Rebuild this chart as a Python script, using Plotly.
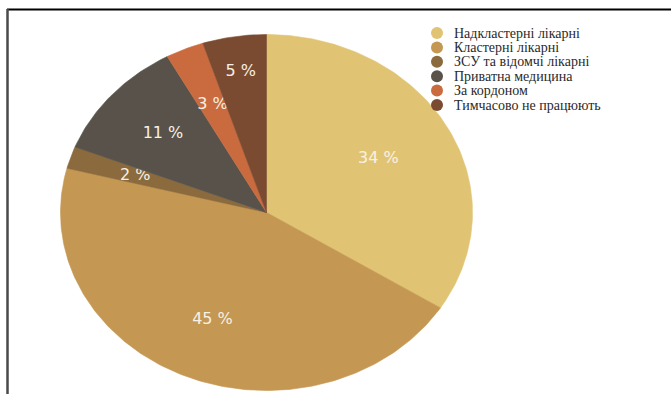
import math
import plotly.graph_objects as go

# Share of patients by type of care facility (%)
categories = [
    "Надкластерні лікарні",
    "Кластерні лікарні",
    "ЗСУ та відомчі лікарні",
    "Приватна медицина",
    "За кордоном",
    "Тимчасово не працюють",
]
shares = [34, 45, 2, 11, 3, 5]
colors = ["#e1c473", "#c49752", "#8b6a3d", "#58524a", "#c96b3f", "#7a4b30"]

# Geometry of the (slightly stretched) pie, in pixel units of the canvas
W, H = 671, 394
CX, CY = 266.5, 212.5
RX, RY = 206.0, 178.0
label_radius = [0.62, 0.66, 0.67, 0.67, 0.66, 0.80]

fig = go.Figure()

total = sum(shares)
start = 0.0
for name, val, col, lr in zip(categories, shares, colors, label_radius):
    a0 = start / total * 2 * math.pi
    a1 = (start + val) / total * 2 * math.pi
    n = max(8, int(val * 4))
    xs, ys = [CX], [CY]
    for k in range(n + 1):
        a = a0 + (a1 - a0) * k / n
        # clockwise from 12 o'clock, y axis points down
        xs.append(CX + RX * math.sin(a))
        ys.append(CY - RY * math.cos(a))
    xs.append(CX)
    ys.append(CY)
    fig.add_trace(go.Scatter(
        x=xs, y=ys, mode="lines", fill="toself", fillcolor=col,
        line=dict(color=col, width=0.6), hoverinfo="skip", showlegend=False,
    ))
    am = (a0 + a1) / 2
    fig.add_trace(go.Scatter(
        x=[CX + lr * RX * math.sin(am)], y=[CY - lr * RY * math.cos(am)],
        mode="text", text=[f"{val} %"],
        textfont=dict(family="DejaVu Sans", size=16, color="#f6f1e4"),
        hoverinfo="skip", showlegend=False,
    ))
    start += val

# Legend: round markers with serif labels
LX, LY0, LDY = 437, 33, 14.4
fig.add_trace(go.Scatter(
    x=[LX] * len(categories),
    y=[LY0 + i * LDY for i in range(len(categories))],
    mode="markers", marker=dict(size=12, color=colors),
    hoverinfo="skip", showlegend=False,
))
for i, name in enumerate(categories):
    fig.add_annotation(
        x=LX + 15, y=LY0 + i * LDY, xref="x", yref="y", text=name,
        showarrow=False, xanchor="left", yanchor="middle",
        font=dict(family="Liberation Serif", size=14, color="#2a2a2a"),
    )

# Frame lines along the top and left edges
fig.add_shape(type="line", xref="paper", yref="paper", x0=7 / W, x1=1, y0=1 - 9.5 / H, y1=1 - 9.5 / H,
              line=dict(color="#000000", width=2))
fig.add_shape(type="line", xref="paper", yref="paper", x0=7.5 / W, x1=7.5 / W, y0=0, y1=1 - 9 / H,
              line=dict(color="#4a4a4a", width=2.5))

fig.update_layout(
    width=W, height=H, margin=dict(l=0, r=0, t=0, b=0),
    paper_bgcolor="white", plot_bgcolor="white",
    xaxis=dict(range=[0, W], visible=False, fixedrange=True),
    yaxis=dict(range=[H, 0], visible=False, fixedrange=True),
    showlegend=False,
)

fig.write_html("out.html")
